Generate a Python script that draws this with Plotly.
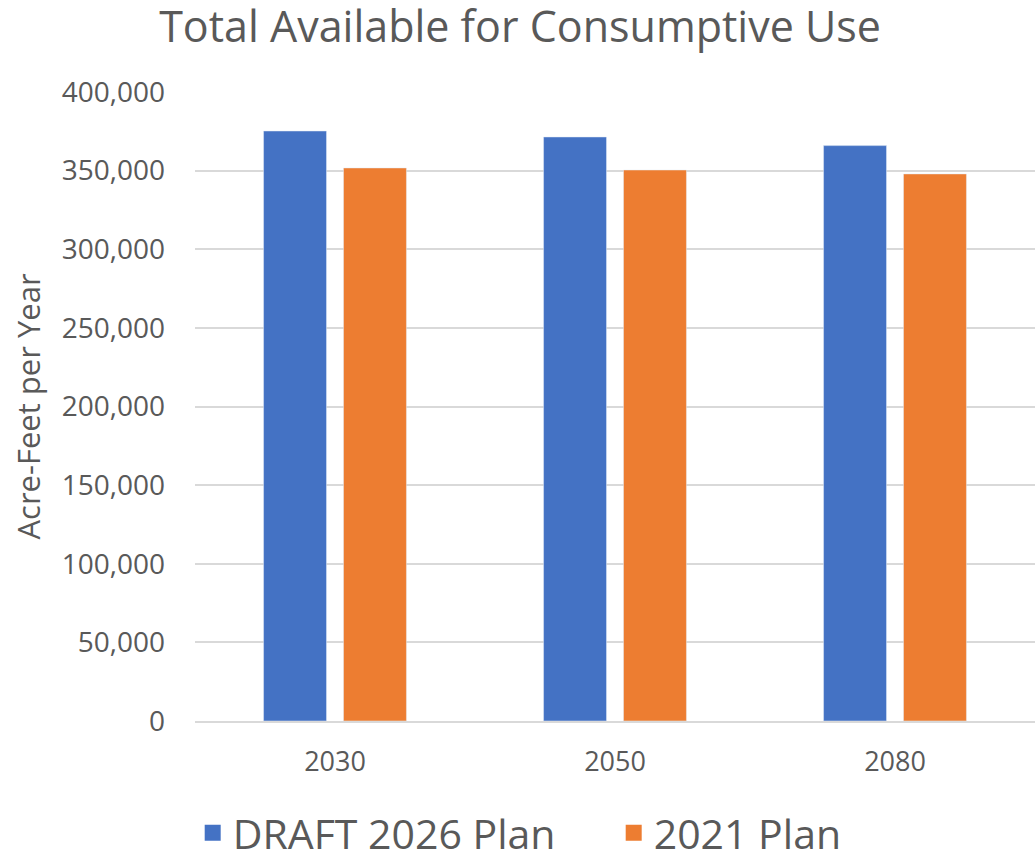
import plotly.graph_objects as go

years = ["2030", "2050", "2080"]
draft_2026 = [375200, 371400, 365900]
plan_2021 = [351700, 350400, 347900]
y_ticks = [0, 50000, 100000, 150000, 200000, 250000, 300000, 350000, 400000]
y_tick_labels = ["0", "50,000", "100,000", "150,000", "200,000", "250,000", "300,000", "350,000", "400,000"]
series_names = ["DRAFT 2026 Plan", "2021 Plan"]
series_colors = ["#4472C4", "#ED7D31"]

text_color = "#595959"
font_family = "Open Sans, DejaVu Sans, sans-serif"

fig = go.Figure()
for name, vals, col in zip(series_names, [draft_2026, plan_2021], series_colors):
    fig.add_trace(go.Bar(name=name, x=years, y=vals, marker=dict(color=col), showlegend=False))
# legend entries with larger square swatches
for name, col in zip(series_names, series_colors):
    fig.add_trace(go.Scatter(name=name, x=[None], y=[None], mode="markers",
                             marker=dict(symbol="square", size=16, color=col), showlegend=True))

fig.update_layout(
    width=1036, height=852,
    margin=dict(l=195, r=1, t=92, b=131),
    paper_bgcolor="white", plot_bgcolor="white",
    barmode="group", bargap=0.429, bargroupgap=0.2125,
    font=dict(family=font_family, color=text_color),
    title=dict(text="Total Available for Consumptive Use", x=0.502, xanchor="center",
               y=0.9686, yanchor="middle", font=dict(size=43, color=text_color)),
    legend=dict(orientation="h", x=0.186, xanchor="left", xref="container",
                y=0.0223, yanchor="middle", yref="container",
                font=dict(size=41, color=text_color), entrywidth=376,
                itemsizing="trace", itemwidth=30, traceorder="normal"),
)
fig.update_xaxes(showgrid=False, showline=True, linecolor="#d9d9d9", linewidth=2, automargin=False,
                 tickfont=dict(size=27, color=text_color), ticks="", ticklabelstandoff=16)
fig.update_yaxes(range=[0, 400000], tickvals=y_ticks, ticktext=y_tick_labels, automargin=False,
                 showgrid=True, gridcolor="#d9d9d9", gridwidth=2, zeroline=False,
                 tickfont=dict(size=28, color=text_color), ticks="", ticklabelstandoff=29,
                 title=dict(text="Acre-Feet per Year", font=dict(size=31, color=text_color), standoff=11))

fig.write_html("out.html", config={"displayModeBar": False},
               post_script="document.body.style.margin='0';")
